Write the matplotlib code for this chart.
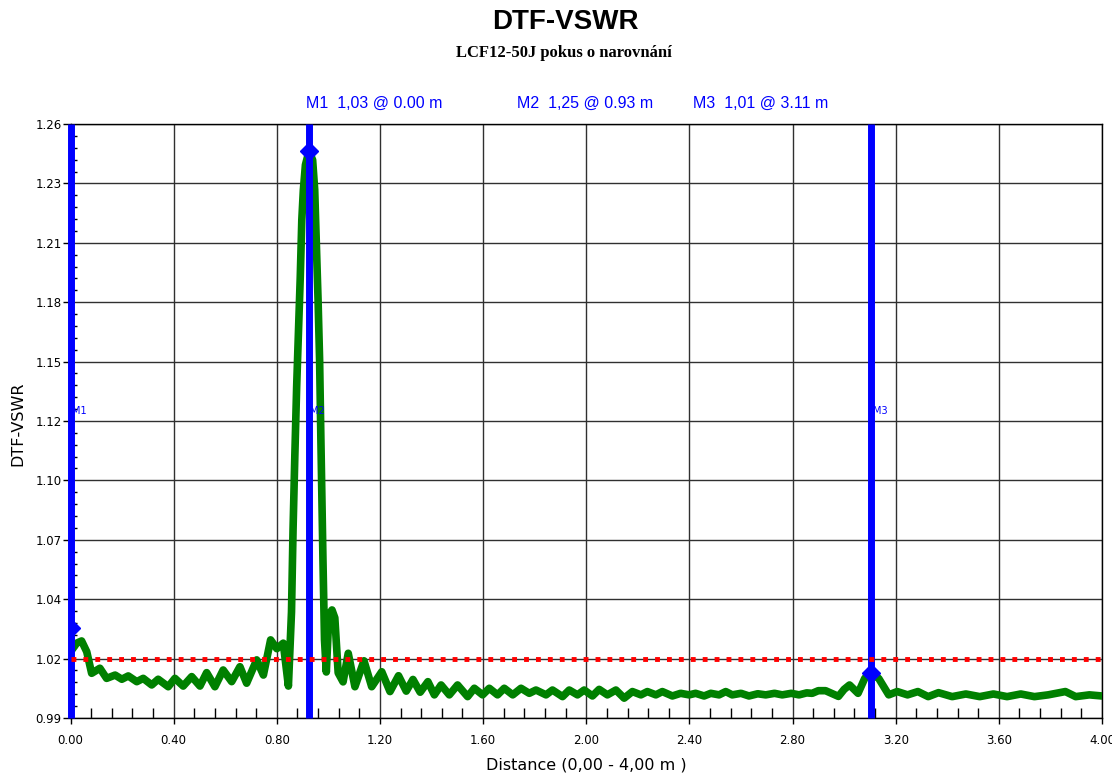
import numpy as np
import matplotlib
matplotlib.use('Agg')
import matplotlib.pyplot as plt
from matplotlib.ticker import AutoMinorLocator

# DTF trace (distance in m, VSWR)
distance = [
    0.000, 0.024, 0.043, 0.063, 0.082, 0.114, 0.140, 0.173, 0.199, 0.224,
    0.257, 0.282, 0.315, 0.340, 0.379, 0.405, 0.437, 0.470, 0.502, 0.528,
    0.560, 0.592, 0.625, 0.657, 0.683, 0.722, 0.748, 0.776, 0.800, 0.825,
    0.845, 0.857, 0.863, 0.870, 0.877, 0.883, 0.891, 0.897, 0.903, 0.911,
    0.925, 0.939, 0.947, 0.954, 0.960, 0.966, 0.971, 0.979, 0.985, 0.992,
    1.002, 1.014, 1.025, 1.038, 1.057, 1.077, 1.103, 1.138, 1.168, 1.207,
    1.239, 1.272, 1.302, 1.328, 1.356, 1.386, 1.411, 1.437, 1.469, 1.501,
    1.540, 1.566, 1.598, 1.624, 1.656, 1.682, 1.715, 1.747, 1.779, 1.805,
    1.844, 1.869, 1.908, 1.934, 1.966, 1.992, 2.024, 2.050, 2.082, 2.115,
    2.147, 2.179, 2.212, 2.237, 2.270, 2.295, 2.334, 2.366, 2.399, 2.424,
    2.457, 2.483, 2.515, 2.541, 2.566, 2.600, 2.631, 2.665, 2.696, 2.730,
    2.760, 2.795, 2.825, 2.855, 2.876, 2.900, 2.928, 2.955, 2.978, 3.000,
    3.021, 3.054, 3.080, 3.100, 3.134, 3.173, 3.206, 3.246, 3.286, 3.326,
    3.366, 3.419, 3.472, 3.526, 3.579, 3.632, 3.685, 3.738, 3.791, 3.858,
    3.898, 3.951, 4.000,
]
vswr = [
    1.0201, 1.0240, 1.0250, 1.0201, 1.0103, 1.0126, 1.0080, 1.0095, 1.0076, 1.0091,
    1.0065, 1.0080, 1.0050, 1.0076, 1.0042, 1.0080, 1.0045, 1.0088, 1.0045, 1.0106,
    1.0042, 1.0118, 1.0065, 1.0133, 1.0058, 1.0164, 1.0095, 1.0255, 1.0215, 1.0240,
    1.0045, 1.0382, 1.0755, 1.1095, 1.1405, 1.1618, 1.1905, 1.2164, 1.2300, 1.2414,
    1.2477, 1.2436, 1.2300, 1.2027, 1.1800, 1.1527, 1.1164, 1.0618, 1.0255, 1.0109,
    1.0368, 1.0391, 1.0355, 1.0105, 1.0064, 1.0194, 1.0042, 1.0160, 1.0042, 1.0110,
    1.0020, 1.0092, 1.0022, 1.0075, 1.0017, 1.0065, 1.0005, 1.0050, 1.0005, 1.0050,
    0.9997, 1.0035, 1.0005, 1.0035, 1.0005, 1.0035, 1.0005, 1.0035, 1.0012, 1.0027,
    1.0005, 1.0027, 0.9997, 1.0027, 1.0005, 1.0027, 1.0000, 1.0030, 1.0005, 1.0027,
    0.9990, 1.0020, 1.0005, 1.0020, 1.0005, 1.0020, 1.0000, 1.0012, 1.0005, 1.0012,
    1.0000, 1.0012, 1.0005, 1.0020, 1.0005, 1.0012, 1.0000, 1.0010, 1.0005, 1.0012,
    1.0005, 1.0012, 1.0005, 1.0014, 1.0012, 1.0024, 1.0024, 1.0010, 0.9998, 1.0030,
    1.0050, 1.0012, 1.0080, 1.0103, 1.0080, 1.0005, 1.0020, 1.0005, 1.0020, 0.9997,
    1.0015, 0.9997, 1.0009, 0.9997, 1.0009, 0.9997, 1.0009, 0.9997, 1.0005, 1.0020,
    0.9997, 1.0005, 1.0000,
]

marker_names = ['M1', 'M2', 'M3']
marker_dist = [0.00, 0.925, 3.106]
marker_vswr = [1.031, 1.2477, 1.0103]
marker_header = ['M1  1,03 @ 0.00 m', 'M2  1,25 @ 0.93 m', 'M3  1,01 @ 3.11 m']
limit_line = 1.017

y_tick_labels = ['0.99', '1.02', '1.04', '1.07', '1.10', '1.12',
                 '1.15', '1.18', '1.21', '1.23', '1.26']
x_tick_labels = ['0.00', '0.40', '0.80', '1.20', '1.60', '2.00',
                 '2.40', '2.80', '3.20', '3.60', '4.00']

fig = plt.figure(figsize=(11.12, 7.73), dpi=100)
ax = fig.add_axes([0.0634, 0.0712, 0.9276, 0.7684])

ax.set_xlim(0, 4.0)
ax.set_ylim(0.99, 1.26)
ax.set_xticks(np.linspace(0, 4.0, 11))
ax.set_xticklabels(x_tick_labels)
ax.set_yticks(np.linspace(0.99, 1.26, 11))
ax.set_yticklabels(y_tick_labels)
ax.xaxis.set_minor_locator(AutoMinorLocator(5))
ax.yaxis.set_minor_locator(AutoMinorLocator(5))

ax.grid(True, which='major', color='#303030', lw=1.0, zorder=0)
ax.set_axisbelow(True)

ax.tick_params(axis='both', which='major', direction='out', color='black',
               labelsize=8.5, width=1)
ax.tick_params(axis='x', which='major', length=4.5, pad=7)
ax.tick_params(axis='y', which='major', length=5.5, pad=1)
ax.tick_params(axis='x', which='minor', direction='in', length=7.5, width=1)
ax.tick_params(axis='y', which='minor', direction='in', length=4.5, width=1)
for sp in ax.spines.values():
    sp.set_color('black')
    sp.set_linewidth(1)

# trace
ax.plot(distance, vswr, color='#008000', lw=5.5, solid_joinstyle='round',
        solid_capstyle='round', zorder=3)

# markers
for name, xd, yv in zip(marker_names, marker_dist, marker_vswr):
    ax.plot([xd, xd], [0.99, 1.26], color='#0000ff', lw=5,
            solid_capstyle='butt', zorder=4, clip_on=False)
    ax.plot([xd], [yv], marker='D', ms=9, color='#0000ff', zorder=5)
    ax.annotate(name, (xd, 1.1295), xytext=(1, 0), textcoords='offset points',
                color='#0000ff', fontsize=7, ha='left', va='center', zorder=3)

# limit line
ax.axhline(limit_line, color='#ff0000', lw=3.5, ls=(0, (1.0, 1.45)), zorder=6)

ax.set_xlabel('Distance (0,00 - 4,00 m )', fontsize=11.5, va='center')
ax.xaxis.set_label_coords(0.5, -0.079)
ax.set_ylabel('DTF-VSWR', fontsize=11.5, va='center')
ax.yaxis.set_label_coords(-0.051, 0.495)

fig.text(0.508, 1 - 22 / 773, 'DTF-VSWR', fontsize=20, fontweight='bold',
         ha='center', va='center', family='Liberation Sans')
fig.text(0.507, 1 - 53 / 773, 'LCF12-50J pokus o narovnání', fontsize=12,
         fontweight='bold', ha='center', va='center', family='Liberation Serif')
for txt, xp in zip(marker_header, [306, 517, 693]):
    fig.text(xp / 1112, 1 - 103 / 773, txt, fontsize=11.5, color='#0000ff',
             ha='left', va='center', family='Liberation Sans')

fig.savefig('out.png', dpi=100)
